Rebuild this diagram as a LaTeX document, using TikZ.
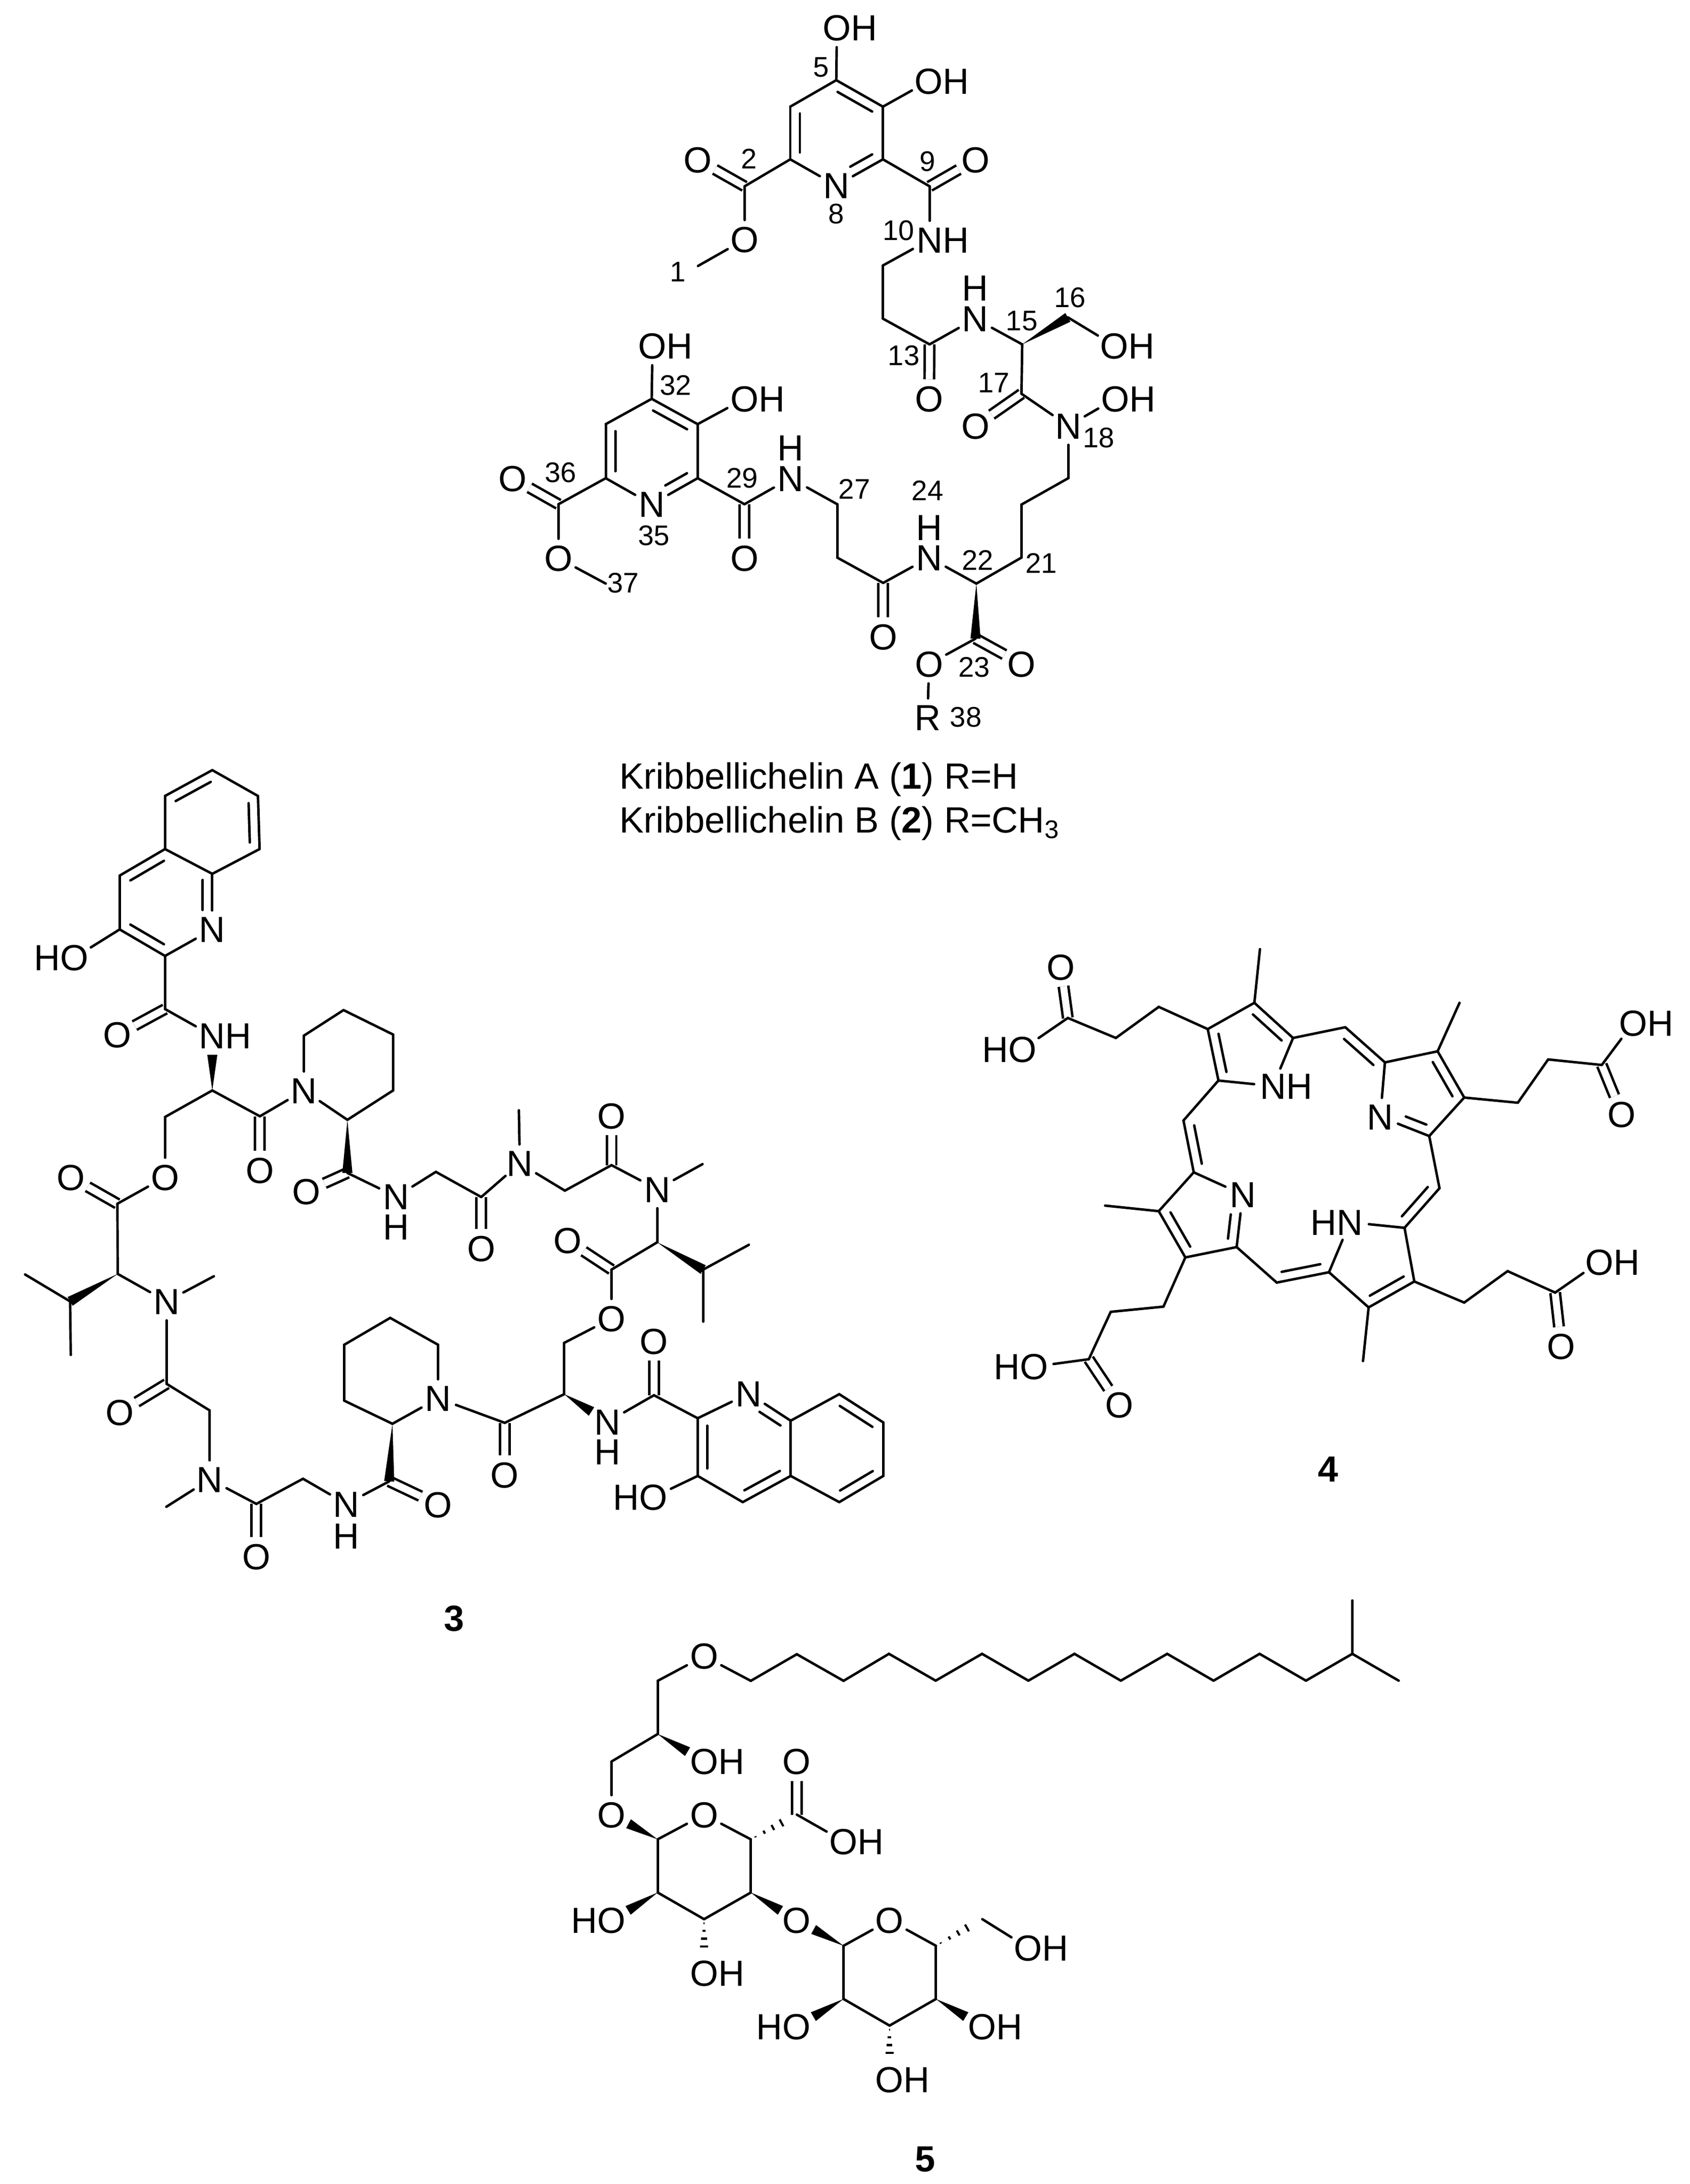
\documentclass[tikz,border=0pt]{standalone}
\usepackage{fontspec}
\setmainfont{Liberation Sans}
\usepackage{tikz}
\usetikzlibrary{calc}

\tikzset{
  bond/.style={line width=1.4pt, line cap=round},
  cobond/.style={line width=1.4pt, double, double distance=.14cm},
  atom/.style={circle, inner sep=0, minimum size=.74cm, text height=.515cm, text depth=0, font=\fontsize{20.5}{24}\selectfont},
  hatom/.style={inner sep=0, text height=.515cm, text depth=0, font=\fontsize{20.5}{24}\selectfont},
  numlabel/.style={inner sep=0, font=\fontsize{16}{19}\selectfont},
  namelabel/.style={inner sep=0, anchor=base west, font=\fontsize{20.6}{24}\selectfont},
  cmpdlabel/.style={inner sep=0, font=\fontsize{20.5}{24}\selectfont\bfseries},
  zA/.style={shift={(12.5cm,0cm)}, x=.006378cm, y=-.005102cm},
  zB/.style={shift={(9.5cm,-6cm)}, x=.008292cm, y=-.006697cm},
  zC/.style={shift={(0cm,-14.5cm)}, x=.006378cm, y=-.007015cm},
  zD/.style={shift={(9cm,-21cm)}, x=.006378cm, y=-.007015cm},
  zE/.style={shift={(19cm,-18cm)}, x=.009247cm, y=-.007334cm},
  zF/.style={shift={(10.5cm,-31.5cm)}, x=.007015cm, y=-.007532cm},
  zG/.style={shift={(0cm,-24cm)}, x=.006378cm, y=-.00574cm},
  zH/.style={shift={(17.5cm,-31cm)}, x=.007015cm, y=-.003333cm}
}
\newcommand{\carbons}[1]{\foreach \n/\x/\y in {#1} \coordinate (\n) at (\x,\y);}
\newcommand{\atoms}[1]{\foreach \n/\x/\y/\txt in {#1} \node[atom] (\n) at (\x,\y) {\txt};}
\newcommand{\hatoms}[1]{\foreach \n/\x/\y in {#1} \node[hatom] (\n) at (\x,\y) {H};}
\newcommand{\nums}[1]{\foreach \x/\y/\txt in {#1} \node[numlabel] (l\txt) at (\x,\y) {\txt};}
\newcommand{\bonds}[1]{\foreach \a/\b in {#1} \draw[bond] (\a) -- (\b);}
\newcommand{\cobonds}[1]{\foreach \a/\b in {#1} \draw[cobond] (\a) -- (\b);}
\newcommand{\inbonds}[1]{\foreach \a/\b/\p/\q in {#1} {
  \draw[bond] (\a) -- (\b);
  \draw[bond] ($(\a)!\p!(\b)!.19cm!-90:(\b)$) -- ($(\a)!\q!(\b)!.19cm!-90:(\b)$);}}
\newcommand{\wedges}[1]{\foreach \a/\b/\g in {#1} {
  \coordinate (w) at ($(\b)!\g!(\a)$);
  \fill ($(\a)$) -- ($(w)!.1cm!90:(\a)$) -- ($(w)!.1cm!-90:(\a)$) -- cycle;}}
\newcommand{\hashes}[1]{\foreach \a/\b/\g in {#1} {
  \coordinate (w) at ($(\b)!\g!(\a)$);
  \foreach \t in {.12,.34,.56,.78,1} {
    \pgfmathsetmacro\hw{\t*.1}
    \draw[line width=1.2pt] ($(\a)!\t!(w)!\hw cm!90:(w)$) -- ($(\a)!\t!(w)!\hw cm!-90:(w)$);}}}

\begin{document}
\begin{tikzpicture}
\useasboundingbox (0,0) rectangle (33.5,-43.31);

% kribbellichelin
\begin{scope}[zA]
\carbons{a5/640/312,a4/785/415,a3/785/620,a6/497/415,a7/497/620,a2/355/725,a9/930/725,m1/210/1035,a11/785/1033,a12/785/1240,a13/930/1340,a15/1218/1340,a16/1360/1235}
\atoms{n8/640/722/N,o5/642/108/O\rlap{H},o4/928/315/O\rlap{H},o2/210/622/O,o9/1073/622/O,oe/355/932/O,n10/930/933/N\rlap{H},n14/1072/1240/N,o16/1505/1345/O\rlap{H}}
\hatoms{h14/1072/1120}
\nums{593/262/5,368/617/2,923/628/9,640/832/8,833/898/10,147/1058/1,850/1383/13,1217/1248/15,1367/1158/16}
\end{scope}
\begin{scope}[zB]
\carbons{a17/1298/270,a19/1410/520,a20/1298/598,a21/1298/755,a22/1190/832,a23/1188/995,a25/967/830,a26/857/755,a27/857/597,a29/635/597,a30/523/520,a31/523/360,a32/413/285,a33/303/360,a34/303/520,a36/190/597,m37/303/832}
\atoms{o13/1077/285/O,o17/1188/365/O,n18/1410/365/N,o18/1522/285/O\rlap{H},n24/1077/755/N,o25/967/990/O,o23a/1298/1070/O,o23b/1077/1070/O,r38/1073/1228/R,n28/745/520/N,o29/635/757/O,n35/413/597/N,o32/415/128/O\rlap{H},o31/635/285/O\rlap{H},o36a/80/520/O,o36b/190/757/O}
\hatoms{h24/1077/665,h28/745/430}
\nums{1232/237/17,1483/400/18,470/245/32,630/520/29,195/503/36,418/690/35,345/830/37,898/552/27,1073/557/24,1193/762/22,1345/772/21,1185/1080/23,1165/1228/38}
\node[namelabel] (name1) at (335,1440) {Kribbellichelin A (\textbf{1}) R=H};
\node[namelabel] (name2) at (335,1570) {Kribbellichelin B (\textbf{2}) R=CH\textsubscript{3}};
\end{scope}
\cobonds{a2/o2,a9/o9,a13/o13,a17/o17,a25/o25,a23/o23a,a29/o29,a36/o36a}
\inbonds{a5/a4/.13/.87,a3/n8/.13/.6,a7/a6/.13/.87,a32/a31/.13/.87,a30/n35/.13/.6,a34/a33/.13/.87}
\bonds{a5/o5,a4/o4,a4/a3,a6/a5,n8/a7,a7/a2,a2/oe,oe/m1,a3/a9,a9/n10,n10/a11,a11/a12,a12/a13,a13/n14,n14/a15,a15/a17,a16/o16,a17/n18,n18/o18,n18/a19,a19/a20,a20/a21,a21/a22,a22/n24,n24/a25,a25/a26,a26/a27,a27/n28,n28/a29,a29/a30,a31/a30,n35/a34,a33/a32,a32/o32,a31/o31,a34/a36,a36/o36b,o36b/m37,a23/o23b,o23b/r38}
\wedges{a15/a16/0cm,a22/a23/0cm}

% compound 3
\begin{scope}[zC]
\carbons{b1/660/110,b2/802/183,b3/807/333,b4/660/403,b5/513/333,b6/513/183,b7/372/408,b8/372/560,b9/513/635,b10/513/785,b11/660/1015,b12/513/1090,b13/365/1335,b14/808/1088,b15/945/860,b16/1068/788,b17/1222/857,b18/1222/1015,b19/1080/1098,b20/1080/1248,b21/1355/1245}
\atoms{bn1/660/560/N,bo1/231/640/\llap{H}O,bo2/365/858/O,bn2/660/860/N\rlap{H},bo3/513/1260/O,bo4/220/1260/O,bo5/808/1240/O,bn3/945/1015/N,bo6/953/1300/O,bn4/1232/1315/N}
\hatoms{bh4/1232/1400}
\end{scope}
\begin{scope}[zG]
\carbons{b22/366/220,b23/218/315,b24/78/222,b25/220/500,bm1/665/228,b26/518/600,b27/652/692,bm2/517/1025,b28/797/1015,b29/942/928,b30/1210/937,b31/1220/738,b32/1362/465,b33/1213/372,b34/1070/465,b35/1070/658}
\atoms{bn5/518/315/N,bo7/373/698/O,bn6/652/930/N,bo8/797/1197/O,bn7/1077/1015/N,bo9/1362/1017/O,bn8/1362/650/N}
\hatoms{bh7/1077/1125}
\node[cmpdlabel] (cmpd3) at (1412,1412) {3};
\end{scope}
\begin{scope}[zD]
\carbons{b36/85/390,b37/345/372,b38/490/300,bm3/202/145,bm4/773/297,b39/632/518,b40/490/595,b41/343/802,b42/343/947,b43/622/950,b44/758/1015,b45/758/1178,b46/898/1252,b47/1047/1178,b48/1047/1022,b49/1198/947,b50/1335/1027,b51/1335/1178,b52/1198/1252,b53/775/595,b54/917/525,b55/775/742,b56/158/1028}
\atoms{bo10/85/535/O,bn9/205/295/N,bo11/490/160/O,bn10/632/368/N,bo12/353/513/O,bo13/490/733/O,bn11/478/1025/N,bo14/622/797/O,bn12/917/945/N,bo15/620/1238/\llap{H}O,bo16/158/1175/O}
\hatoms{bh11/478/1110}
\end{scope}
\cobonds{b10/bo2,b13/bo4,b14/bo5,b20/bo6,b26/bo7,b28/bo8,b30/bo9,b36/bo10,b38/bo11,b40/bo12,b43/bo14,b56/bo16}
\inbonds{b6/b1/.13/.87,b2/b3/.13/.87,b7/b5/.13/.87,b4/bn1/.11/.65,b9/b8/.13/.87,b45/b44/.13/.87,bn12/b48/.38/.88,b47/b46/.13/.87,b49/b50/.13/.87,b51/b52/.13/.87}
\bonds{b1/b2,b3/b4,b4/b5,b5/b6,b8/b7,bn1/b9,b8/bo1,b9/b10,b10/bn2,b11/b12,b12/bo3,bo3/b13,b11/b14,b14/bn3,bn3/b15,b15/b16,b16/b17,b17/b18,b18/b19,b19/bn3,b20/bn4,bn4/b21,b21/b36,b13/b22,b23/b24,b23/b25,b22/bn5,bn5/bm1,bn5/b26,b26/b27,b27/bn6,bn6/bm2,bn6/b28,b28/b29,b29/bn7,bn7/b30,b31/bn8,bn8/b32,b32/b33,b33/b34,b34/b35,b35/b31,bn8/b56,b36/bn9,bn9/bm3,bn9/b37,b37/b38,b38/bn10,bn10/bm4,bn10/b39,b39/b40,b40/bo13,bo13/b41,b41/b42,bn11/b43,b43/b44,b44/bn12,b45/bo15,b46/b45,b47/b48,b48/b49,b50/b51,b52/b47,b53/b54,b53/b55,b42/b56}
\wedges{b11/bn2/.38cm,b19/b20/0cm,b22/b23/0cm,b31/b30/0cm,b39/b53/0cm,b42/bn11/.38cm}

% compound 4
\begin{scope}[zE]
\carbons{d1/535/328,d2/635/257,d3/718/352,d4/558/467,dm1/647/112,d5/430/268,d6/338/352,d7/235/298,d8/830/323,d9/915/418,d10/1028/388,d11/1085/513,d12/1010/617,dm2/1075/257,d13/1200/527,d14/1265/410,d15/1380/425,d16/1032/758,d17/957/865,d18/978/1010,d19/880/1080,d20/795/985,dm3/868/1225,d21/1085/1067,d22/1178/982,d23/1280/1040,d24/683/1013,d25/597/917,d26/487/945,d27/430/820,d28/505/715,dm4/315/805,d29/440/1078,d30/327/1092,d31/280/1220,d32/483/575}
\atoms{dn1/675/482/N\rlap{H},do1/220/160/O,do2/138/382/\llap{H}O,dn2/905/565/N,do3/1423/558/O,do4/1447/312/O\rlap{H},dn3/840/850/\llap{H}N,do5/1293/1185/O,do6/1375/957/O\rlap{H},dn4/610/775/N,do7/345/1343/O,do8/163/1240/\llap{H}O}
\node[cmpdlabel] (cmpd4) at (793,1517) {4};
\end{scope}
\cobonds{d7/do1,d15/do3,d23/do5,d31/do7}
\inbonds{d4/d1/.13/.87,d2/d3/.13/.87,d8/d9/.13/.87,d10/d11/.13/.87,d12/dn2/.13/.55,d16/d17/.13/.87,d18/d19/.13/.87,d20/d24/.13/.87,d26/d27/.13/.87,dn4/d25/.4/.86,d28/d32/.13/.87}
\bonds{d1/d2,d3/dn1,dn1/d4,d2/dm1,d1/d5,d5/d6,d6/d7,d7/do2,d3/d8,d9/d10,d11/d12,dn2/d9,d10/dm2,d11/d13,d13/d14,d14/d15,d15/do4,d12/d16,d17/d18,d19/d20,d20/dn3,dn3/d17,d19/dm3,d18/d21,d21/d22,d22/d23,d23/do6,d24/d25,d25/d26,d27/d28,d28/dn4,d27/dm4,d26/d29,d29/d30,d30/d31,d31/do8,d32/d4}

% compound 5
\begin{scope}[zF]
\carbons{e1/362/243,e2/625/243,e3/755/173,e4/887/243,e16/362/383,e17/232/455,e18/362/660,e19/625/660,e20/755/595,e21/625/800,e22/493/870,e23/362/800,e24/887/940,e25/1148/940,e26/1279/870,e27/1148/1080,e28/1017/1150,e29/887/1080}
\atoms{eo1/493/178/O,eo2/493/455/O\rlap{H},eo3/232/595/O,eo4/493/595/O,eo5/755/455/O,eo6/887/665/O\rlap{H},eo7/232/873/\llap{H}O,eo8/493/1012/O\rlap{H},eo9/755/873/O,eo10/1017/873/O,eo11/1408/945/O\rlap{H},eo12/755/1152/\llap{H}O,eo13/1279/1152/O\rlap{H},eo14/1017/1292/O\rlap{H}}
\node[cmpdlabel] (cmpd5) at (1118,1502) {5};
\end{scope}
\begin{scope}[zH]
\carbons{e5/18/540,e6/150/700,e7/281/540,e8/412/700,e9/542/540,e10/673/700,e11/804/540,e12/935/700,e13/1065/540,e14/1196/700,e15/1327/540,em1/1458/700,em2/1327/222}
\end{scope}
\cobonds{e20/eo5}
\bonds{e1/eo1,eo1/e2,e2/e3,e3/e4,e4/e5,e5/e6,e6/e7,e7/e8,e8/e9,e9/e10,e10/e11,e11/e12,e12/e13,e13/e14,e14/e15,e15/em1,e15/em2,e1/e16,e16/e17,e17/eo3,e18/eo4,eo4/e19,e20/eo6,e19/e21,e21/e22,e22/e23,e23/e18,e24/eo10,eo10/e25,e26/eo11,e25/e27,e27/e28,e28/e29,e29/e24}
\wedges{e16/eo2/.38cm,e18/eo3/.38cm,e23/eo7/.38cm,e21/eo9/.38cm,e24/eo9/.38cm,e29/eo12/.38cm,e27/eo13/.38cm}
\hashes{e19/e20/.15cm,e22/eo8/.38cm,e25/e26/.15cm,e28/eo14/.38cm}
\end{tikzpicture}
\end{document}
